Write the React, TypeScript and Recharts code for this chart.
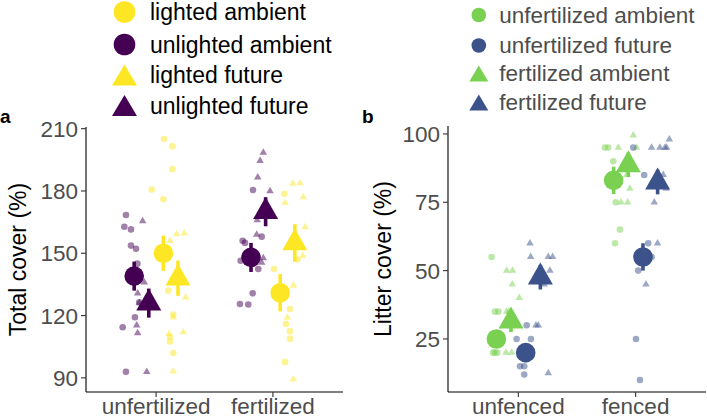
import { ScatterChart, Scatter, XAxis, YAxis, ErrorBar } from "recharts"

const YELLOW = "#FDE725"
const PURPLE = "#440154"
const GREEN = "#7AD151"
const BLUE = "#3B528B"

// panel a
const coverGroups = ["unfertilized", "fertilized"]
const coverTicks = [90, 120, 150, 180, 210]

const unlitAmbRaw = [
  [0.742, 168.4], [0.728, 162.8], [0.785, 161.5], [0.785, 153.7], [0.828, 152.2], [0.84, 145], [0.856, 126.4],
  [0.819, 119.2], [0.714, 114.4], [0.742, 92.9],
  [1.83, 180.5], [1.741, 156], [1.761, 155], [1.904, 158], [1.724, 146.4], [1.875, 142.4], [1.827, 130.7],
  [1.718, 125.6], [1.789, 125.3],
]
const unlitFutRaw = [
  [0.885, 165.5], [0.899, 136], [0.842, 130.7], [0.856, 126], [0.834, 115.3], [0.842, 111.6], [0.92, 92.9],
  [1.918, 198.5], [1.89, 194.5], [1.87, 186.6], [1.975, 179.9], [1.866, 166], [1.861, 159], [1.918, 147.7],
  [1.904, 145.5],
]
const litAmbRaw = [
  [1.068, 205], [1.139, 201.5], [1.139, 190.5], [0.962, 180.7], [1.062, 176], [1.104, 132], [1.147, 120.5],
  [1.119, 109.7], [1.119, 107.5], [1.147, 102],
  [2.098, 178.6], [2.009, 142.4], [2.146, 123.2], [2.112, 116], [2.146, 112.5], [2.146, 108.9], [2.104, 97.7],
  [2.21, 147],
]
const litFutRaw = [
  [1.176, 159.2], [1.241, 159.6], [1.119, 156], [1.253, 128.8], [1.147, 119.2], [1.11, 111.2], [1.233, 112],
  [1.147, 93.2],
  [2.17, 183.5], [2.232, 183.8], [2.26, 177], [2.104, 174.3], [2.275, 162.6], [2.255, 148.8], [2.175, 134.4],
  [2.123, 119], [2.175, 89.3],
]
const unlitAmbMean = [139, 148]
const unlitAmbSe = [7, 7]
const unlitFutMean = [126, 170]
const unlitFutSe = [7, 7]
const litAmbMean = [150, 131]
const litAmbSe = [8.5, 9]
const litFutMean = [138, 155]
const litFutSe = [8.5, 9]

// panel b
const litterGroups = ["unfenced", "fenced"]
const litterTicks = [25, 50, 75, 100]

const unfAmbRaw = [
  [0.772, 55], [0.8, 35], [0.83, 35], [0.785, 20], [0.8, 20], [0.82, 20], [0.84, 25],
  [1.738, 95], [1.766, 95], [1.809, 90], [1.866, 65], [1.824, 60], [1.79, 85], [1.83, 75],
]
const fertAmbRaw = [
  [0.9, 50], [0.951, 50], [0.948, 45], [1.008, 40], [0.9, 35], [0.92, 35], [0.894, 20], [0.943, 20], [0.925, 30],
  [1.852, 95], [1.98, 99.5], [2.008, 95], [1.875, 75], [1.932, 75], [1.951, 80], [1.923, 85], [1.96, 90],
]
const unfFutRaw = [
  [1.071, 30], [0.985, 25], [1.107, 25], [1.014, 15], [1.05, 15], [1.05, 12], [1.08, 20],
  [2.073, 85], [2.107, 60], [2.136, 55], [2.022, 50], [2.003, 25], [2.037, 10], [1.98, 95],
]
const fertFutRaw = [
  [1.099, 60], [1.105, 55], [1.255, 55], [1.292, 55], [1.269, 50], [1.15, 30], [1.17, 30], [1.255, 12.5], [1.22, 45],
  [2.136, 95], [2.207, 95], [2.25, 95], [2.264, 95], [2.287, 98], [2.235, 85], [2.159, 75], [2.187, 60],
  [2.088, 45], [2.26, 80],
]
const unfAmbMean = [25, 83]
const unfAmbSe = [3, 5]
const fertAmbMean = [31.5, 88.7]
const fertAmbSe = [4, 4.5]
const unfFutMean = [20, 55]
const unfFutSe = [3.5, 5]
const fertFutMean = [47.6, 82.4]
const fertFutSe = [4.5, 4.5]

const DODGE = [-0.1875, -0.0625, 0.0625, 0.1875]

type Series = { name: string; color: string; shape: "circle" | "triangle"; raw: number[][]; mean: number[]; se: number[] }

const coverSeries: Series[] = [
  { name: "unlighted ambient", color: PURPLE, shape: "circle", raw: unlitAmbRaw, mean: unlitAmbMean, se: unlitAmbSe },
  { name: "unlighted future", color: PURPLE, shape: "triangle", raw: unlitFutRaw, mean: unlitFutMean, se: unlitFutSe },
  { name: "lighted ambient", color: YELLOW, shape: "circle", raw: litAmbRaw, mean: litAmbMean, se: litAmbSe },
  { name: "lighted future", color: YELLOW, shape: "triangle", raw: litFutRaw, mean: litFutMean, se: litFutSe },
]
const litterSeries: Series[] = [
  { name: "unfertilized ambient", color: GREEN, shape: "circle", raw: unfAmbRaw, mean: unfAmbMean, se: unfAmbSe },
  { name: "fertilized ambient", color: GREEN, shape: "triangle", raw: fertAmbRaw, mean: fertAmbMean, se: fertAmbSe },
  { name: "unfertilized future", color: BLUE, shape: "circle", raw: unfFutRaw, mean: unfFutMean, se: unfFutSe },
  { name: "fertilized future", color: BLUE, shape: "triangle", raw: fertFutRaw, mean: fertFutMean, se: fertFutSe },
]

const coverLegend = [
  { label: "lighted ambient", color: YELLOW, shape: "circle" },
  { label: "unlighted ambient", color: PURPLE, shape: "circle" },
  { label: "lighted future", color: YELLOW, shape: "triangle" },
  { label: "unlighted future", color: PURPLE, shape: "triangle" },
]
const litterLegend = [
  { label: "unfertilized ambient", color: GREEN, shape: "circle" },
  { label: "unfertilized future", color: BLUE, shape: "circle" },
  { label: "fertilized ambient", color: GREEN, shape: "triangle" },
  { label: "fertilized future", color: BLUE, shape: "triangle" },
]

const triPath = (cx: number, cy: number, w: number, h: number) =>
  `M${cx},${cy - (2 * h) / 3}L${cx + w / 2},${cy + h / 3}L${cx - w / 2},${cy + h / 3}Z`

const makeShape = (shape: string, color: string, big: boolean) => (p: any) => {
  if (p.cx == null || p.cy == null) return <g />
  const op = big ? 1 : 0.5
  if (shape === "circle") return <circle cx={p.cx} cy={p.cy} r={big ? 9.8 : 3.3} fill={color} fillOpacity={op} />
  return big ? (
    <path d={triPath(p.cx, p.cy, 25, 22)} fill={color} />
  ) : (
    <path d={triPath(p.cx, p.cy, 7.5, 6.5)} fill={color} fillOpacity={op} />
  )
}

function Panel({ groups, ticks, domain, title, series, width, marginRight, marginTop, yWidth, titleOffset }: any) {
  return (
    <ScatterChart width={width} height={418} margin={{ top: marginTop, right: marginRight, bottom: 0, left: 0 }}>
      <XAxis
        type="number"
        dataKey="x"
        domain={[0.4, 2.6]}
        ticks={[1, 2]}
        interval={0}
        allowDataOverflow
        tickFormatter={(v: number) => groups[v - 1]}
        axisLine={{ stroke: "#000", strokeWidth: 1.1 }}
        tickLine={{ stroke: "#333", strokeWidth: 1.1 }}
        tickSize={5}
        tickMargin={1}
        tick={{ fill: "#4d4d4d", fontSize: 22.5 }}
        height={26}
      />
      <YAxis
        type="number"
        dataKey="y"
        domain={domain}
        ticks={ticks}
        interval={0}
        allowDataOverflow
        axisLine={{ stroke: "#000", strokeWidth: 1.1 }}
        tickLine={{ stroke: "#333", strokeWidth: 1.1 }}
        tickSize={5}
        tickMargin={3}
        tick={{ fill: "#4d4d4d", fontSize: 22.5 }}
        width={yWidth}
        label={{
          value: title,
          angle: -90,
          position: "insideLeft",
          offset: titleOffset,
          style: { textAnchor: "middle", fill: "#000", fontSize: 23 },
        }}
      />
      {series.map((s: Series) => (
        <Scatter
          key={s.name + "-raw"}
          data={s.raw.map(([x, y]) => ({ x, y }))}
          shape={makeShape(s.shape, s.color, false)}
          isAnimationActive={false}
        />
      ))}
      {series.map((s: Series, k: number) => (
        <Scatter
          key={s.name + "-mean"}
          data={s.mean.map((y, i) => ({ x: i + 1 + DODGE[k], y, se: s.se[i] }))}
          shape={makeShape(s.shape, s.color, true)}
          isAnimationActive={false}
        >
          <ErrorBar dataKey="se" direction="y" width={0} stroke={s.color} strokeWidth={3.6} />
        </Scatter>
      ))}
    </ScatterChart>
  )
}

function LegendBlock({ items, symX, textX, rows, bigR, triW, triH, textColor, base, fontSize }: any) {
  return (
    <g>
      {items.map((it: any, i: number) => (
        <g key={it.label}>
          {it.shape === "circle" ? (
            <circle cx={symX} cy={rows[i]} r={bigR} fill={it.color} />
          ) : (
            <path
              d={`M${symX},${rows[i] - triH / 2}L${symX + triW / 2},${rows[i] + triH / 2}L${symX - triW / 2},${rows[i] + triH / 2}Z`}
              fill={it.color}
            />
          )}
          <text x={textX} y={rows[i] + base} fontSize={fontSize} fill={textColor}>
            {it.label}
          </text>
        </g>
      ))}
    </g>
  )
}

export default function App() {
  return (
    <div
      style={{
        position: "absolute",
        left: 0,
        top: 0,
        width: 707,
        height: 418,
        background: "#fff",
        fontFamily: '"Liberation Sans", Arial, sans-serif',
        overflow: "hidden",
      }}
    >
      <div style={{ position: "absolute", left: 0, top: 0 }}>
        <Panel
          groups={coverGroups}
          ticks={coverTicks}
          domain={[83.2, 210.8]}
          title="Total cover (%)"
          series={coverSeries}
          width={360}
          marginRight={17}
          marginTop={127}
          yWidth={86}
          titleOffset={18}
        />
      </div>
      <div style={{ position: "absolute", left: 360, top: 0 }}>
        <Panel
          groups={litterGroups}
          ticks={litterTicks}
          domain={[5.6, 102.9]}
          title="Litter cover (%)"
          series={litterSeries}
          width={347}
          marginRight={1}
          marginTop={126}
          yWidth={88}
          titleOffset={23}
        />
      </div>
      <svg width={707} height={418} style={{ position: "absolute", left: 0, top: 0, pointerEvents: "none" }}>
        <LegendBlock
          items={coverLegend}
          symX={124.5}
          textX={150}
          rows={[12, 44.5, 75, 105.5]}
          bigR={10.8}
          triW={25}
          triH={21}
          textColor="#000"
          base={8.3}
          fontSize={23}
        />
        <LegendBlock
          items={litterLegend}
          symX={478.8}
          textX={499.3}
          rows={[15, 45.5, 73.5, 102.5]}
          bigR={7.3}
          triW={19}
          triH={16}
          textColor="#4d4d4d"
          base={7.5}
          fontSize={22.5}
        />
        <text x={0} y={122.7} fontSize={19} fontWeight="bold" fill="#000">
          a
        </text>
        <text x={362} y={122.7} fontSize={19} fontWeight="bold" fill="#000">
          b
        </text>
      </svg>
    </div>
  )
}
